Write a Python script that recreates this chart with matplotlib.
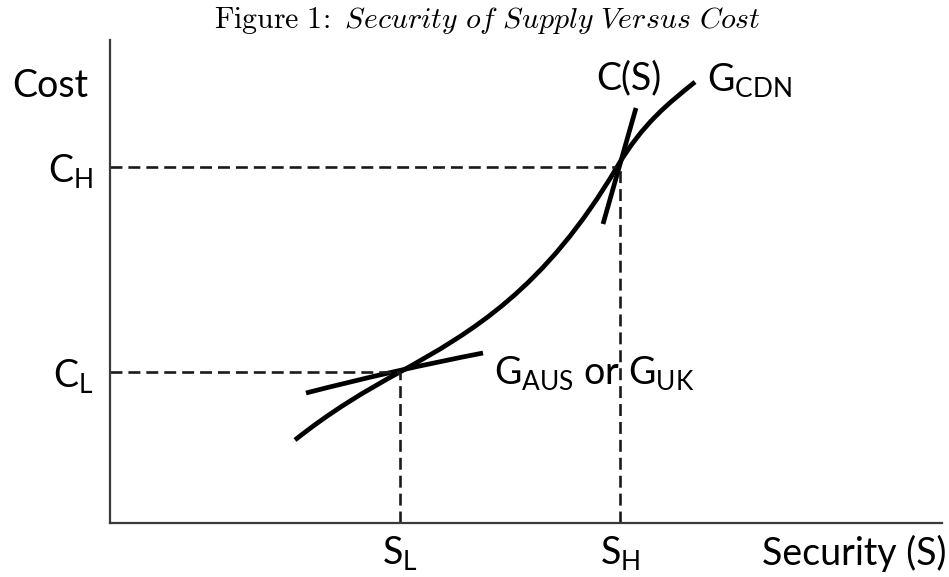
import matplotlib
matplotlib.use("Agg")
from matplotlib import pyplot as plt
from matplotlib.path import Path
from matplotlib.patches import PathPatch

plt.rcParams['font.family'] = ['Lato', 'DejaVu Sans']
plt.rcParams['mathtext.fontset'] = 'custom'
plt.rcParams['mathtext.rm'] = 'Lato'
plt.rcParams['mathtext.it'] = 'Lato:italic'
plt.rcParams['lines.scale_dashes'] = False

# security / cost levels (units measured from the origin of the diagram)
S_L, S_H = 290, 510
C_L, C_H = 151, 356
x_max, y_max = 832, 483

# supply cost curve, drawn as three cubic bezier pieces (control points)
cost_curve = [(185, 83), (220, 111), (255, 132), (290, 151),
              (362, 191), (435, 234), (507, 356),
              (533, 400), (559, 420), (585, 441)]
# C(S): short steep line through the high point
cs_line = [(493, 299), (526, 415)]
# G_AUS / G_UK: shallow line through the low point (quadratic bezier)
g_aus = [(196, 130), (285, 153), (373, 170)]

fig = plt.figure(figsize=(9.49, 5.77), dpi=100)
ax = fig.add_axes([110 / 949, 1 - 523 / 577, 832 / 949, 483 / 577])
ax.set_xlim(0, x_max)
ax.set_ylim(0, y_max)
ax.patch.set_alpha(0)
for side in ['top', 'right']:
    ax.spines[side].set_visible(False)
for side in ['left', 'bottom']:
    ax.spines[side].set_color('#3a3a3a')
    ax.spines[side].set_linewidth(1.6)

dash = dict(color='#1a1a1a', lw=1.9, dashes=(8.6, 4.3))
ax.plot([0, S_L], [C_L, C_L], **dash)
ax.plot([S_L, S_L], [0, C_L], **dash)
ax.plot([0, 507], [C_H, C_H], **dash)
ax.plot([S_H, S_H], [0, C_H], **dash)

curve_kw = dict(fill=False, edgecolor='black', lw=3.4, capstyle='butt')
codes = [Path.MOVETO] + [Path.CURVE4] * 9
ax.add_patch(PathPatch(Path(cost_curve, codes), **curve_kw))
ax.add_patch(PathPatch(Path(g_aus, [Path.MOVETO, Path.CURVE3, Path.CURVE3]), **curve_kw))
xs, ys = zip(*cs_line)
ax.plot(xs, ys, color='black', lw=3.4, solid_capstyle='butt')

fs = 27
ax.set_xticks([S_L, S_H])
ax.set_xticklabels([r'S$_\mathrm{L}$', r'S$_\mathrm{H}$'], fontsize=fs)
ax.set_yticks([C_L, C_H])
ax.set_yticklabels([r'C$_\mathrm{L}$', r'C$_\mathrm{H}$'], fontsize=fs)
ax.tick_params(length=0)
ax.tick_params(axis='x', pad=8)
ax.tick_params(axis='y', pad=12)

ax.text(-98, 437, 'Cost', fontsize=fs, ha='left', va='center', clip_on=False)
ax.text(836, -30, 'Security (S)', fontsize=fs, ha='right', va='center', clip_on=False)
ax.text(486, 445, 'C(S)', fontsize=fs, ha='left', va='center')
ax.text(597, 443, r'G$_\mathrm{CDN}$', fontsize=fs, ha='left', va='center')
ax.text(384, 150, r'G$_\mathrm{AUS}$ or G$_\mathrm{UK}$', fontsize=fs, ha='left', va='center')

fig.text(487 / 949, 1 - 20 / 577,
         r'$\mathrm{Figure\ 1\!{:}\ }\mathit{Security\ of\ Supply\ Versus\ Cost}$',
         math_fontfamily='cm', fontsize=21.5, ha='center', va='center')

fig.savefig('out.png', dpi=100)
